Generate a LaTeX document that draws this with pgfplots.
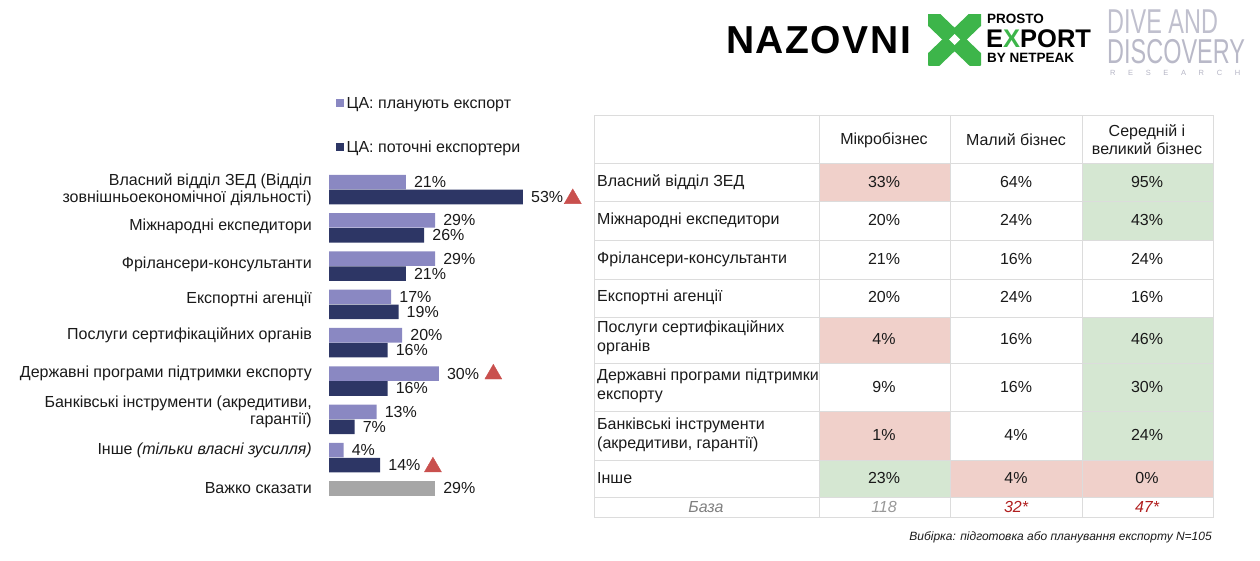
\documentclass[border=0pt]{standalone}
\usepackage{pgfplots}
\pgfplotsset{compat=1.18}
\usepackage{fontspec}
\setmainfont{Liberation Sans}
\newfontfamily\divefont{Liberation Sans}[FakeStretch=0.68]
\newcommand\lbl{\fontsize{16}{16.5}\selectfont}
\newcommand\tbl{\fontsize{16}{19.5}\selectfont}
\definecolor{lightbar}{HTML}{8A88C2}
\definecolor{darkbar}{HTML}{2D3665}
\definecolor{graybar}{HTML}{A6A6A6}
\definecolor{tri}{HTML}{C9504E}
\definecolor{pinkc}{HTML}{F0D0CA}
\definecolor{greenc}{HTML}{D5E7D2}
\definecolor{gridc}{HTML}{DCDCDC}
\definecolor{txt}{HTML}{1A1A1A}
\definecolor{xgreen}{HTML}{3DB54A}
\definecolor{dive}{HTML}{B5B5C5}
\definecolor{basered}{HTML}{B01E1E}
\begin{document}
\begin{tikzpicture}
\path[use as bounding box] (0pt,0pt) rectangle (1260pt,-560pt);
\begin{axis}[
  at={(329pt,-170.35pt)}, anchor=north west,
  scale only axis, width=256.2pt, height=344.7pt,
  xmin=0, xmax=70, ymin=-0.5, ymax=8.5, y dir=reverse,
  xbar, bar width=0.38,
  axis line style={draw=none}, xtick=\empty,
  major tick length=0pt,
  ytick={0,0.95,1.95,2.87,3.8,4.8,5.81,6.82,7.805},
  yticklabels={{Власний відділ ЗЕД (Відділ\\зовнішньоекономічної діяльності)},
    {Міжнародні експедитори},{Фрілансери-консультанти},{Експортні агенції},
    {Послуги сертифікаційних органів},{Державні програми підтримки експорту},
    {Банківські інструменти (акредитиви,\\гарантії)},
    {Інше \textit{(тільки власні зусилля)}},{Важко сказати}},
  yticklabel style={align=right, font=\lbl, text=txt, inner sep=0pt, xshift=-17pt},
  point meta=x,
  /pgf/number format/assume math mode=true,
  nodes near coords={\pgfmathprintnumber{\pgfplotspointmeta}\%},
  every node near coord/.append style={anchor=west, inner sep=0pt, xshift=8pt, font=\lbl, text=txt},
  legend style={at={(axis description cs:0,1)}, anchor=south west, draw=none, fill=none,
    font=\lbl, text=txt, row sep=26pt, inner sep=0pt, xshift=7pt, yshift=14pt,
    nodes={inner sep=2.5pt}},
  legend cell align=left,
  legend image code/.code={\fill[#1,draw=none] (0pt,-4pt) rectangle (8pt,4pt);},
  clip=false,
]
\addplot[fill=lightbar, draw=none, bar shift=-0.195] coordinates {
 (21,0) (29,1) (29,2) (17,3) (20,4) (30,5) (13,6) (4,7)};
\addplot[fill=darkbar, draw=none, bar shift=0.195] coordinates {
 (53,0) (26,1) (21,2) (19,3) (16,4) (16,5) (7,6) (14,7)};
\addplot[fill=graybar, draw=none, bar shift=0, forget plot] coordinates {(29,7.805)};
\addplot[only marks, mark=triangle*, mark size=9.8pt, color=tri, forget plot,
  nodes near coords={}] coordinates {(66.6,0.24) (44.9,4.82) (28.4,7.245)};
\legend{ЦА: планують експорт, ЦА: поточні експортери}
\end{axis}
\begin{scope}[x=1pt,y=-1pt]
% table fills
\fill[pinkc] (819,163) rectangle (950,201);
\fill[greenc] (1082,163) rectangle (1213,240);
\fill[pinkc] (819,317) rectangle (950,363);
\fill[greenc] (1082,317) rectangle (1213,460);
\fill[pinkc] (819,411) rectangle (950,460);
\fill[greenc] (819,460) rectangle (950,497);
\fill[pinkc] (950,460) rectangle (1213,497);
% grid
\draw[gridc, line width=0.9pt] (594,115) rectangle (1213,517);
\foreach \yy in {163,201,240,279,317,363,411,460,497} \draw[gridc, line width=0.9pt] (594,\yy) -- (1213,\yy);
\foreach \xx in {819,950,1082} \draw[gridc, line width=0.9pt] (\xx,115) -- (\xx,517);
% header
\begin{scope}[every node/.style={font=\fontsize{16}{18}\selectfont, text=txt, align=center}]
\node at (884,140) {Мікробізнес};
\node at (1016,140) {Малий бізнес};
\node at (1147,140) {Середній і\\великий бізнес};
\end{scope}
% row labels
\begin{scope}[every node/.style={font=\tbl, text=txt, align=left, anchor=west, inner sep=0pt}]
\node at (597,182) {Власний відділ ЗЕД};
\node at (597,220) {Міжнародні експедитори};
\node at (597,259) {Фрілансери-консультанти};
\node at (597,297) {Експортні агенції};
\node at (597,337.5) {Послуги сертифікаційних\\органів};
\node at (597,386) {Державні програми підтримки\\експорту};
\node at (597,435) {Банківські інструменти\\(акредитиви, гарантії)};
\node at (597,478) {Інше};
\end{scope}
% values
\begin{scope}[every node/.style={font=\lbl, text=txt}]
\foreach \r/\yy in {{33/64/95}/182,{20/24/43}/220,{21/16/24}/259,{20/24/16}/297,{4/16/46}/339,{9/16/30}/387,{1/4/24}/435,{23/4/0}/478}{
  \foreach \a/\b/\c in \r {
    \node at (884,\yy) {\a\%};
    \node at (1016,\yy) {\b\%};
    \node at (1147,\yy) {\c\%};
  }
}
\end{scope}
% base row
\begin{scope}[every node/.style={font=\lbl\itshape}]
\node[text=gray] at (706,507) {База};
\node[text=black!40] at (884,507) {118};
\node[text=basered] at (1016,507) {32*};
\node[text=basered] at (1147,507) {47*};
\end{scope}
\node[anchor=base east, inner sep=0pt, font=\fontsize{12}{13}\selectfont\itshape, text=txt] at (1212,540) {Вибірка: підготовка або планування експорту N=105};
% logos
\node[anchor=west, inner sep=0pt, font=\fontsize{39}{40}\selectfont\bfseries\addfontfeature{LetterSpace=4}] at (726,40) {NAZOVNI};
\begin{scope}
\clip (928,14) rectangle (981,65);
\draw[xgreen, line width=17pt] (928,14) -- (981,65);
\draw[xgreen, line width=17pt] (981,14) -- (928,65);
\end{scope}
\fill[white] (954.5,34) -- (960,39.5) -- (954.5,45) -- (949,39.5) -- cycle;
\node[anchor=west, inner sep=0pt, font=\fontsize{13.5}{14}\selectfont\bfseries] at (987,19) {PROSTO};
\node[anchor=west, inner sep=0pt, font=\fontsize{25.5}{26}\selectfont\bfseries] at (986,39) {E{\color{xgreen}X}PORT};
\node[anchor=west, inner sep=0pt, font=\fontsize{13.5}{14}\selectfont\bfseries] at (987,58) {BY NETPEAK};
\node[anchor=west, inner sep=0pt, text=dive!85, font=\fontsize{34.5}{36}\selectfont\divefont] at (1107,22) {DIVE AND};
\node[anchor=west, inner sep=0pt, text=dive!100!black!95, font=\fontsize{34.5}{36}\selectfont\divefont] at (1107,52) {DISCOVERY};
\node[anchor=west, inner sep=0pt, text=dive, font=\fontsize{7.5}{8}\selectfont] at (1110,73) {\makebox[130pt][s]{R\hfill E\hfill S\hfill E\hfill A\hfill R\hfill C\hfill H}};
\end{scope}
\end{tikzpicture}
\end{document}
